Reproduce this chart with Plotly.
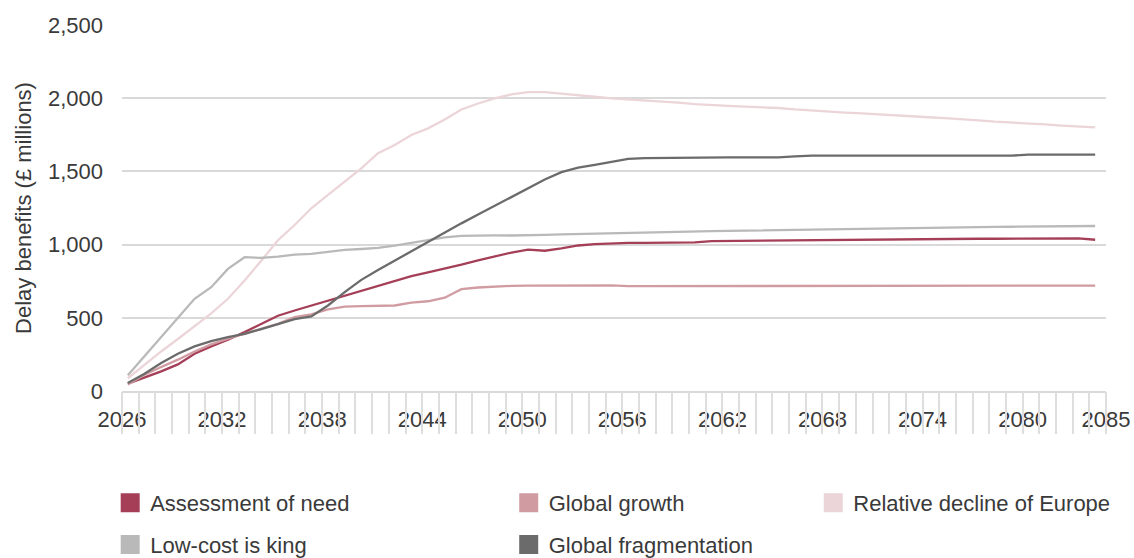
import plotly.graph_objects as go

# ---------------- data ----------------
years = list(range(2026, 2085))          # 59 annual points (plotted mid-year)
YEAR_OFFSET = 0.35                        # points sit part-way through each year

assessment = [50, 91, 134, 182, 255, 305, 350, 402, 459, 514,
              550, 584, 618, 652, 686, 720, 752, 784, 811, 835,
              863, 892, 920, 946, 965, 958, 974, 994, 1003, 1010,
              1012, 1012, 1013, 1015, 1015, 1024, 1025, 1026, 1028, 1028,
              1028, 1033, 1035, 1035, 1035, 1036, 1037, 1037, 1037, 1039,
              1040, 1040, 1040, 1040, 1042, 1042, 1042, 1042, 1033]

global_growth = [45, 111, 164, 214, 270, 318, 357, 391, 425, 459,
                 505, 523, 557, 577, 580, 580, 584, 604, 613, 637,
                 696, 707, 714, 718, 720, 720, 720, 720, 720, 722,
                 716, 716, 716, 716, 716, 716, 717, 718, 718, 719,
                 719, 720, 720, 720, 720, 720, 720, 720, 720, 720,
                 720, 720, 720, 720, 720, 720, 720, 720, 720]

relative_decline = [87, 180, 270, 355, 440, 530, 630, 755, 890, 1030,
                    1134, 1248, 1339, 1430, 1521, 1624, 1680, 1749, 1794, 1855,
                    1923, 1964, 1999, 2026, 2042, 2042, 2033, 2022, 2010, 1999,
                    1992, 1988, 1979, 1970, 1960, 1951, 1947, 1942, 1938, 1933,
                    1923, 1915, 1908, 1902, 1897, 1889, 1881, 1875, 1870, 1864,
                    1858, 1849, 1840, 1835, 1829, 1821, 1813, 1807, 1801]

low_cost = [107, 239, 368, 505, 630, 709, 834, 914, 909, 918,
            932, 936, 948, 964, 970, 977, 993, 1012, 1030, 1050,
            1060, 1063, 1063, 1062, 1062, 1066, 1070, 1073, 1075, 1077,
            1080, 1083, 1086, 1088, 1090, 1092, 1094, 1096, 1098, 1100,
            1102, 1104, 1106, 1108, 1110, 1111, 1113, 1114, 1116, 1118,
            1119, 1120, 1121, 1122, 1123, 1124, 1125, 1126, 1127]

fragmentation = [55, 118, 191, 255, 305, 341, 368, 391, 423, 455,
                 491, 509, 584, 675, 759, 827, 891, 952, 1016, 1082,
                 1145, 1205, 1265, 1325, 1385, 1445, 1495, 1525, 1545, 1565,
                 1585, 1590, 1592, 1592, 1596, 1596, 1596, 1596, 1596, 1596,
                 1602, 1608, 1608, 1608, 1608, 1608, 1608, 1608, 1608, 1608,
                 1608, 1608, 1608, 1608, 1614, 1614, 1614, 1614, 1614]

series_names = ["Assessment of need", "Global growth", "Relative decline of Europe",
                "Low-cost is king", "Global fragmentation"]
series_values = [assessment, global_growth, relative_decline, low_cost, fragmentation]
series_colors = ["#A53F57", "#D09CA2", "#EBD5D9", "#B9B9B9", "#6B6B6B"]
series_legend = ["legend", "legend2", "legend3", "legend", "legend2"]

x_tick_vals = [2026, 2032, 2038, 2044, 2050, 2056, 2062, 2068, 2074, 2080, 2085]
y_tick_vals = [0, 500, 1000, 1500, 2000, 2500]

FONT = "Liberation Sans, Arial, Helvetica, sans-serif"
TXT = "#3a3a3a"
GRID = "#d9d9d9"

xs = [y + YEAR_OFFSET for y in years]

fig = go.Figure()
for name, vals, col in zip(series_names, series_values, series_colors):
    fig.add_trace(go.Scatter(x=xs, y=vals, mode="lines", name=name,
                             line=dict(color=col, width=2.3),
                             showlegend=False, hoverinfo="skip"))

# legend swatches (square)
for name, col, lg in zip(series_names, series_colors, series_legend):
    fig.add_trace(go.Scatter(x=[None], y=[None], mode="markers", name=name,
                             marker=dict(symbol="square", size=16, color=col,
                                         line=dict(color=col, width=3)),
                             legend=lg, legendgroup=name, showlegend=True))

# dummy trace on tick-mark axis
fig.add_trace(go.Scatter(x=[None], y=[None], xaxis="x2", showlegend=False,
                         hoverinfo="skip"))

LEG_Y = 1 - 482 / 558
leg_common = dict(orientation="v", yanchor="top", xanchor="left", yref="container",
                  y=LEG_Y,
                  font=dict(family=FONT, size=22, color=TXT),
                  bgcolor="rgba(0,0,0,0)", tracegroupgap=10,
                  itemclick=False, itemdoubleclick=False)

fig.update_layout(
    width=1134, height=558,
    margin=dict(l=122, r=28, t=25, b=167, autoexpand=False),
    paper_bgcolor="white", plot_bgcolor="white",
    font=dict(family=FONT, size=22, color=TXT),
    xaxis=dict(range=[2026, 2085], tickmode="array", tickvals=x_tick_vals,
               ticktext=[str(v) for v in x_tick_vals], ticks="",
               showgrid=False, zeroline=False, showline=True,
               linecolor=GRID, linewidth=2, ticklabelstandoff=8,
               tickfont=dict(family=FONT, size=22, color=TXT)),
    xaxis2=dict(range=[2026, 2085], overlaying="x", anchor="y", side="bottom",
                tickmode="linear", tick0=2026, dtick=1, ticks="outside",
                ticklen=42, tickwidth=2, tickcolor="#dedede",
                showticklabels=False, showgrid=False, zeroline=False, showline=False),
    yaxis=dict(range=[0, 2500], tickmode="array", tickvals=y_tick_vals,
               tickformat=",", ticks="", showgrid=True, gridcolor=GRID,
               gridwidth=2, zeroline=False, showline=False,
               ticklabelstandoff=18,
               tickfont=dict(family=FONT, size=22, color=TXT),
               title=dict(text="Delay benefits (£ millions)", standoff=10,
                          font=dict(family=FONT, size=22, color=TXT))),
    legend=dict(x=-0.012, **leg_common),
    legend2=dict(x=0.393, **leg_common),
    legend3=dict(x=0.7025, **leg_common),
)

fig.write_html("out.html")
